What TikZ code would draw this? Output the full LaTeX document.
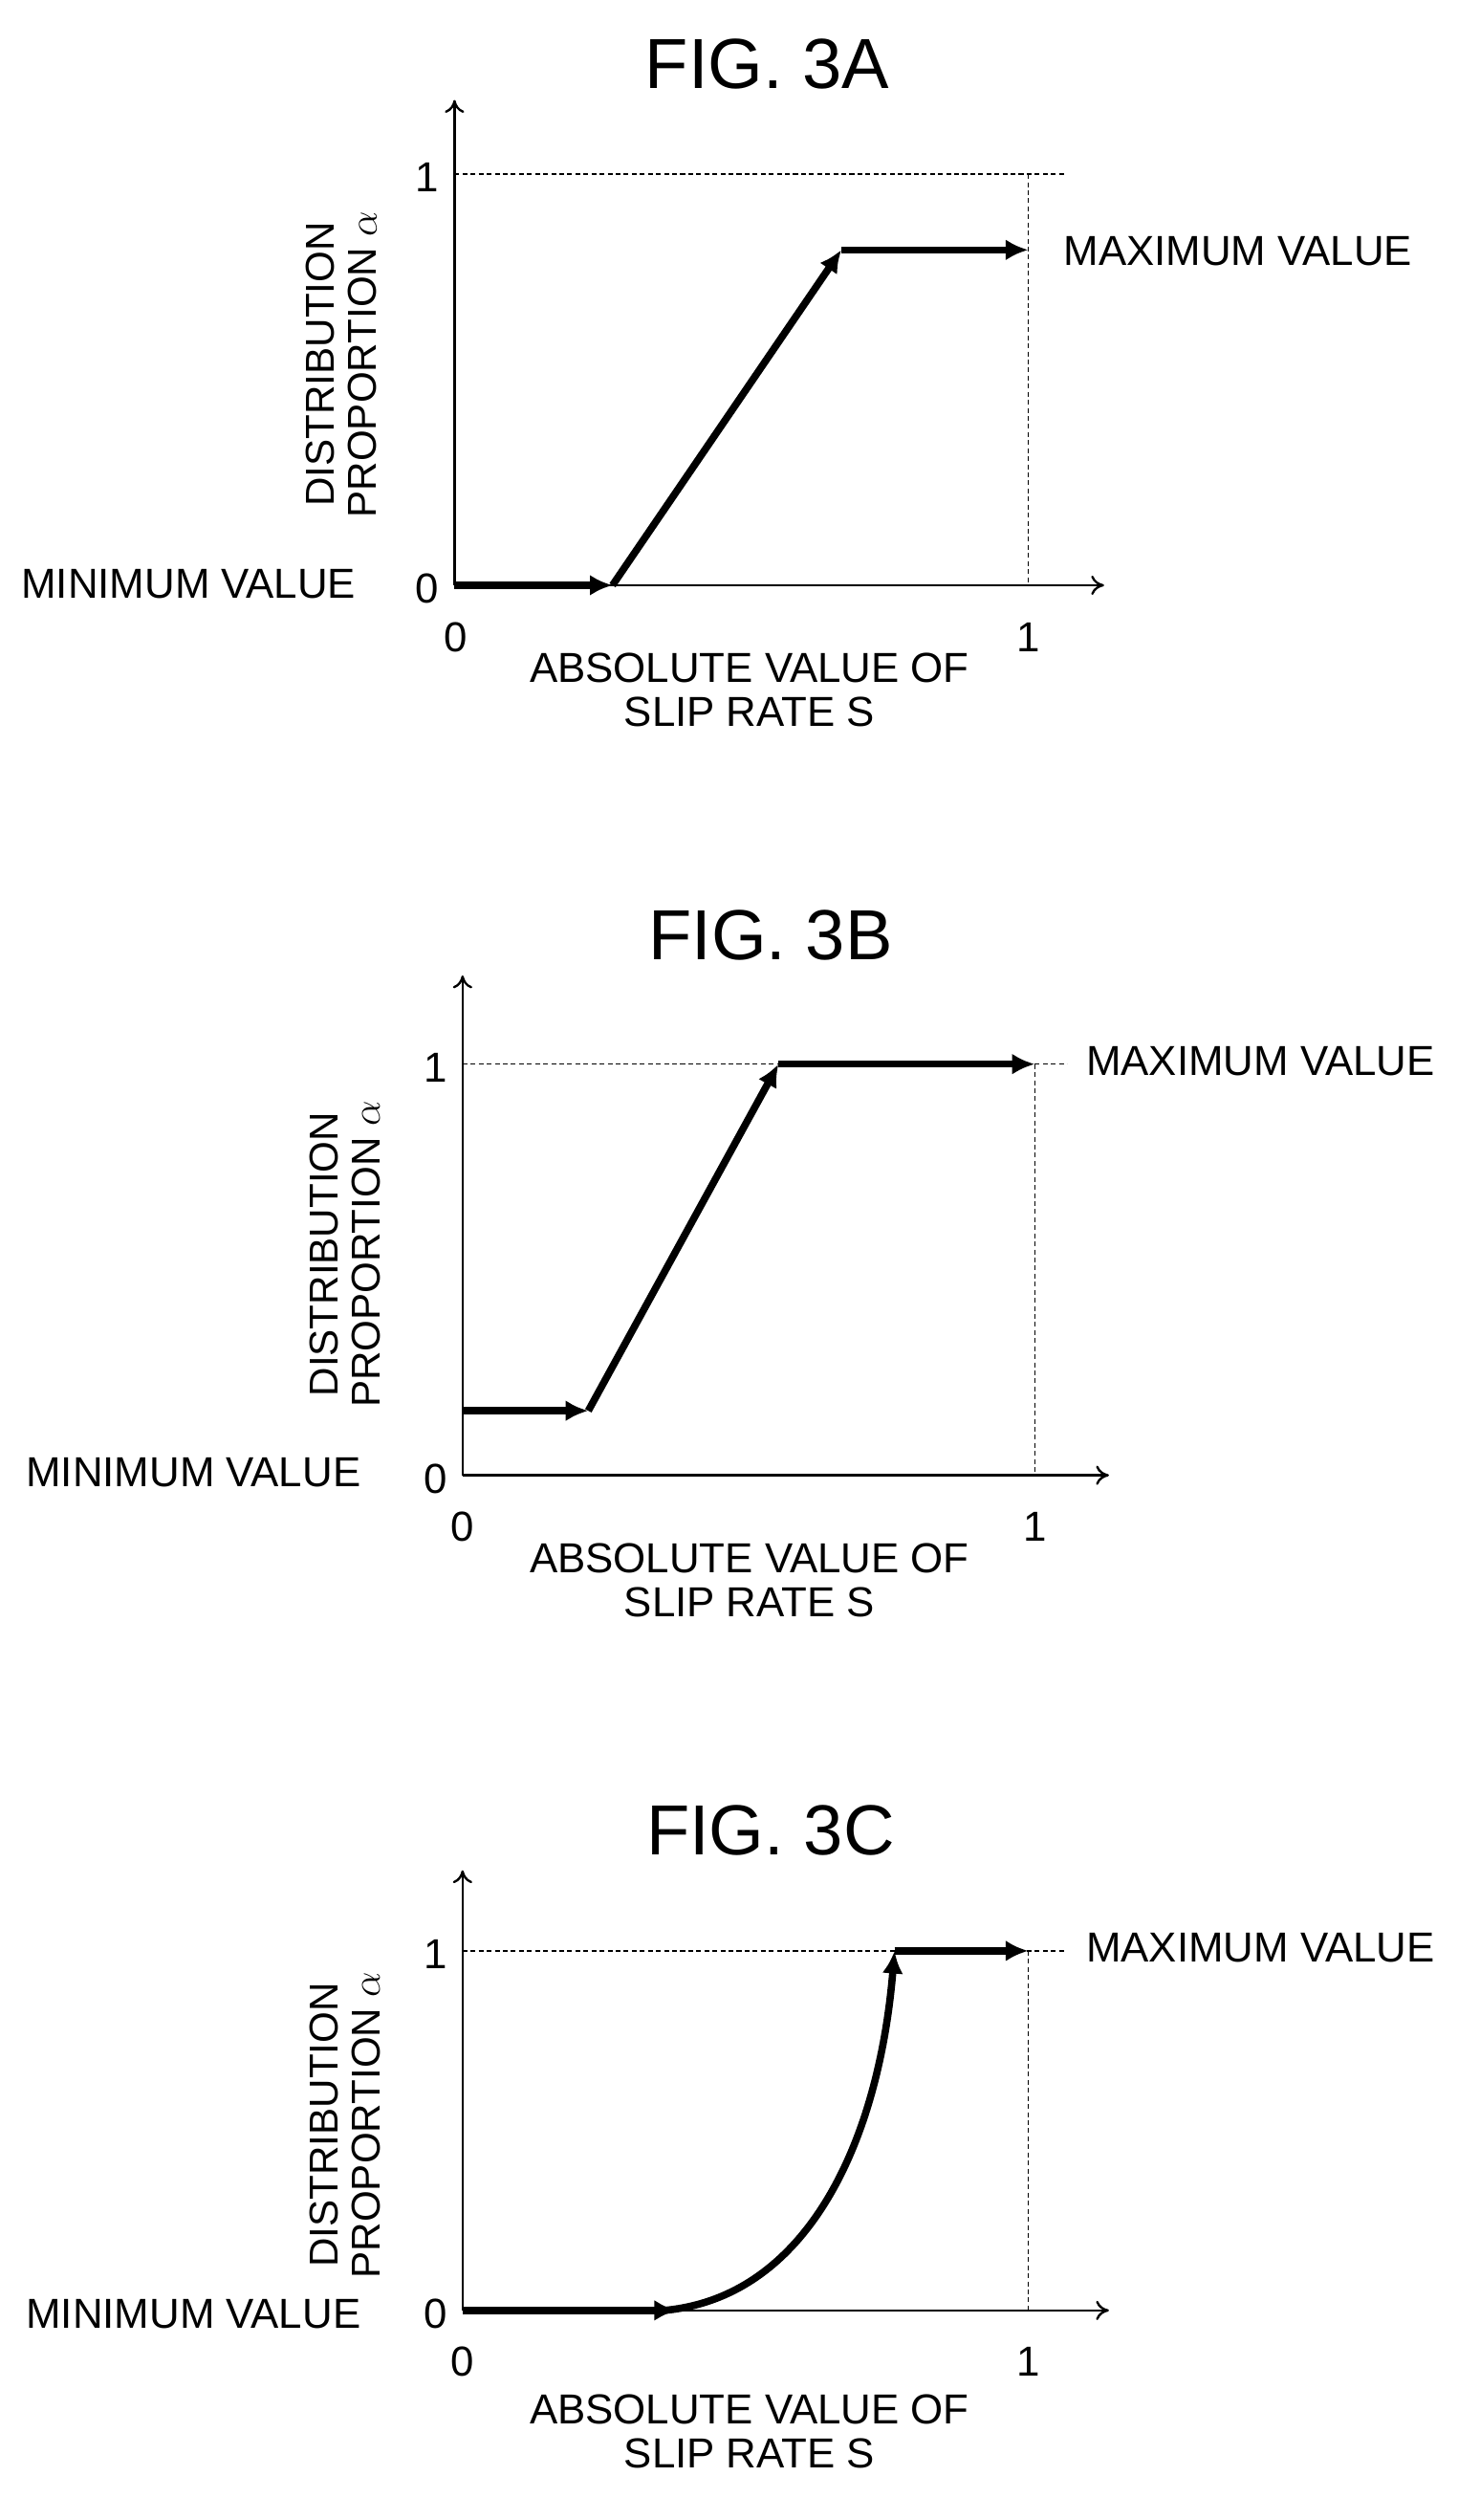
\documentclass[tikz,border=0pt]{standalone}
\usepackage{fontspec}
\setmainfont{Liberation Sans}
\usetikzlibrary{arrows.meta}
\begin{document}
\begin{tikzpicture}[x=1pt,y=-1pt,
 axis/.style={line width=1.4pt,-{To[length=8pt,width=12pt]}},
 guide/.style={line width=0.9pt,dash pattern=on 3pt off 2pt},
 curve/.style={line width=4.5pt,-{Latex[length=14pt,width=13pt]}},
 lbl/.style={font=\fontsize{26}{27}\selectfont,inner sep=0pt},
 ttl/.style={font=\fontsize{44}{46}\selectfont,inner sep=0pt},
 ylab/.style={font=\fontsize{25}{26}\selectfont,inner sep=0pt,rotate=90,align=center},
 xlab/.style={lbl,align=center}]
\useasboundingbox (0,0) rectangle (904,1563);
\fill[white] (0,0) rectangle (904,1563);
% ---------- FIG 3A ----------
\node[ttl] (ta) at (476,40) {FIG. 3A};
\coordinate (oa) at (282,363);
\coordinate (ya) at (282,62);
\coordinate (xa) at (685,363);
\draw[axis] (oa) -- (ya);
\draw[axis] (oa) -- (xa);
\coordinate (a1) at (282,108); \coordinate (a1r) at (660,108); \coordinate (a1b) at (638,363); \coordinate (a1t) at (638,108);
\draw[guide] (a1) -- (a1r);
\draw[guide] (a1t) -- (a1b);
\coordinate (pa1) at (380,363); \coordinate (pa2) at (522,155); \coordinate (pa3) at (638,155);
\draw[curve] (oa) -- (pa1);
\draw[curve] (pa1) -- (pa2);
\draw[curve] (pa2) -- (pa3);
\node[lbl] (a1l) at (265,110) {1};
\node[lbl] (a0l) at (265,365) {0};
\node[lbl] (ax0) at (283,395) {0};
\node[lbl] (ax1) at (638,395) {1};
\node[lbl] (amin) at (117,362) {MINIMUM VALUE};
\node[lbl] (amax) at (768,156) {MAXIMUM VALUE};
\node[ylab] (ayl) at (212,226) {DISTRIBUTION\\PROPORTION $\alpha$};
\node[xlab] (axl) at (465,428) {ABSOLUTE VALUE OF\\SLIP RATE S};
% ---------- FIG 3B ----------
\node[ttl] (tb) at (478,580) {FIG. 3B};
\coordinate (ob) at (287,915);
\coordinate (yb) at (287,605);
\coordinate (xb) at (688,915);
\draw[axis] (ob) -- (yb);
\draw[axis] (ob) -- (xb);
\coordinate (b1) at (287,660); \coordinate (b1r) at (662,660); \coordinate (b1b) at (642,915); \coordinate (b1t) at (642,660);
\draw[guide] (b1) -- (b1r);
\draw[guide] (b1t) -- (b1b);
\coordinate (pb0) at (287,875); \coordinate (pb1) at (365,875); \coordinate (pb2) at (483,660); \coordinate (pb3) at (642,660);
\draw[curve] (pb0) -- (pb1);
\draw[curve] (pb1) -- (pb2);
\draw[curve] (pb2) -- (pb3);
\node[lbl] (b1l) at (270,662) {1};
\node[lbl] (b0l) at (270,917) {0};
\node[lbl] (bx0) at (287,947) {0};
\node[lbl] (bx1) at (642,947) {1};
\node[lbl] (bmin) at (120,913) {MINIMUM VALUE};
\node[lbl] (bmax) at (782,658) {MAXIMUM VALUE};
\node[ylab] (byl) at (214,778) {DISTRIBUTION\\PROPORTION $\alpha$};
\node[xlab] (bxl) at (465,980) {ABSOLUTE VALUE OF\\SLIP RATE S};
% ---------- FIG 3C ----------
\node[ttl] (tc) at (478,1135) {FIG. 3C};
\coordinate (oc) at (287,1433);
\coordinate (yc) at (287,1160);
\coordinate (xc) at (688,1433);
\draw[axis] (oc) -- (yc);
\draw[axis] (oc) -- (xc);
\coordinate (c1) at (287,1210); \coordinate (c1r) at (660,1210); \coordinate (c1b) at (638,1433); \coordinate (c1t) at (638,1210);
\draw[guide] (c1) -- (c1r);
\draw[guide] (c1t) -- (c1b);
\coordinate (pc1) at (420,1433); \coordinate (pc1s) at (412,1433); \coordinate (pc2) at (555,1210); \coordinate (pc3) at (638,1210);
\draw[curve] (oc) -- (pc1);
\draw[curve] (pc1s) .. controls (500,1425) and (545,1330) .. (pc2);
\draw[curve] (pc2) -- (pc3);
\node[lbl] (c1l) at (270,1212) {1};
\node[lbl] (c0l) at (270,1435) {0};
\node[lbl] (cx0) at (287,1465) {0};
\node[lbl] (cx1) at (638,1465) {1};
\node[lbl] (cmin) at (120,1435) {MINIMUM VALUE};
\node[lbl] (cmax) at (782,1208) {MAXIMUM VALUE};
\node[ylab] (cyl) at (214,1318) {DISTRIBUTION\\PROPORTION $\alpha$};
\node[xlab] (cxl) at (465,1508) {ABSOLUTE VALUE OF\\SLIP RATE S};
\end{tikzpicture}
\end{document}
